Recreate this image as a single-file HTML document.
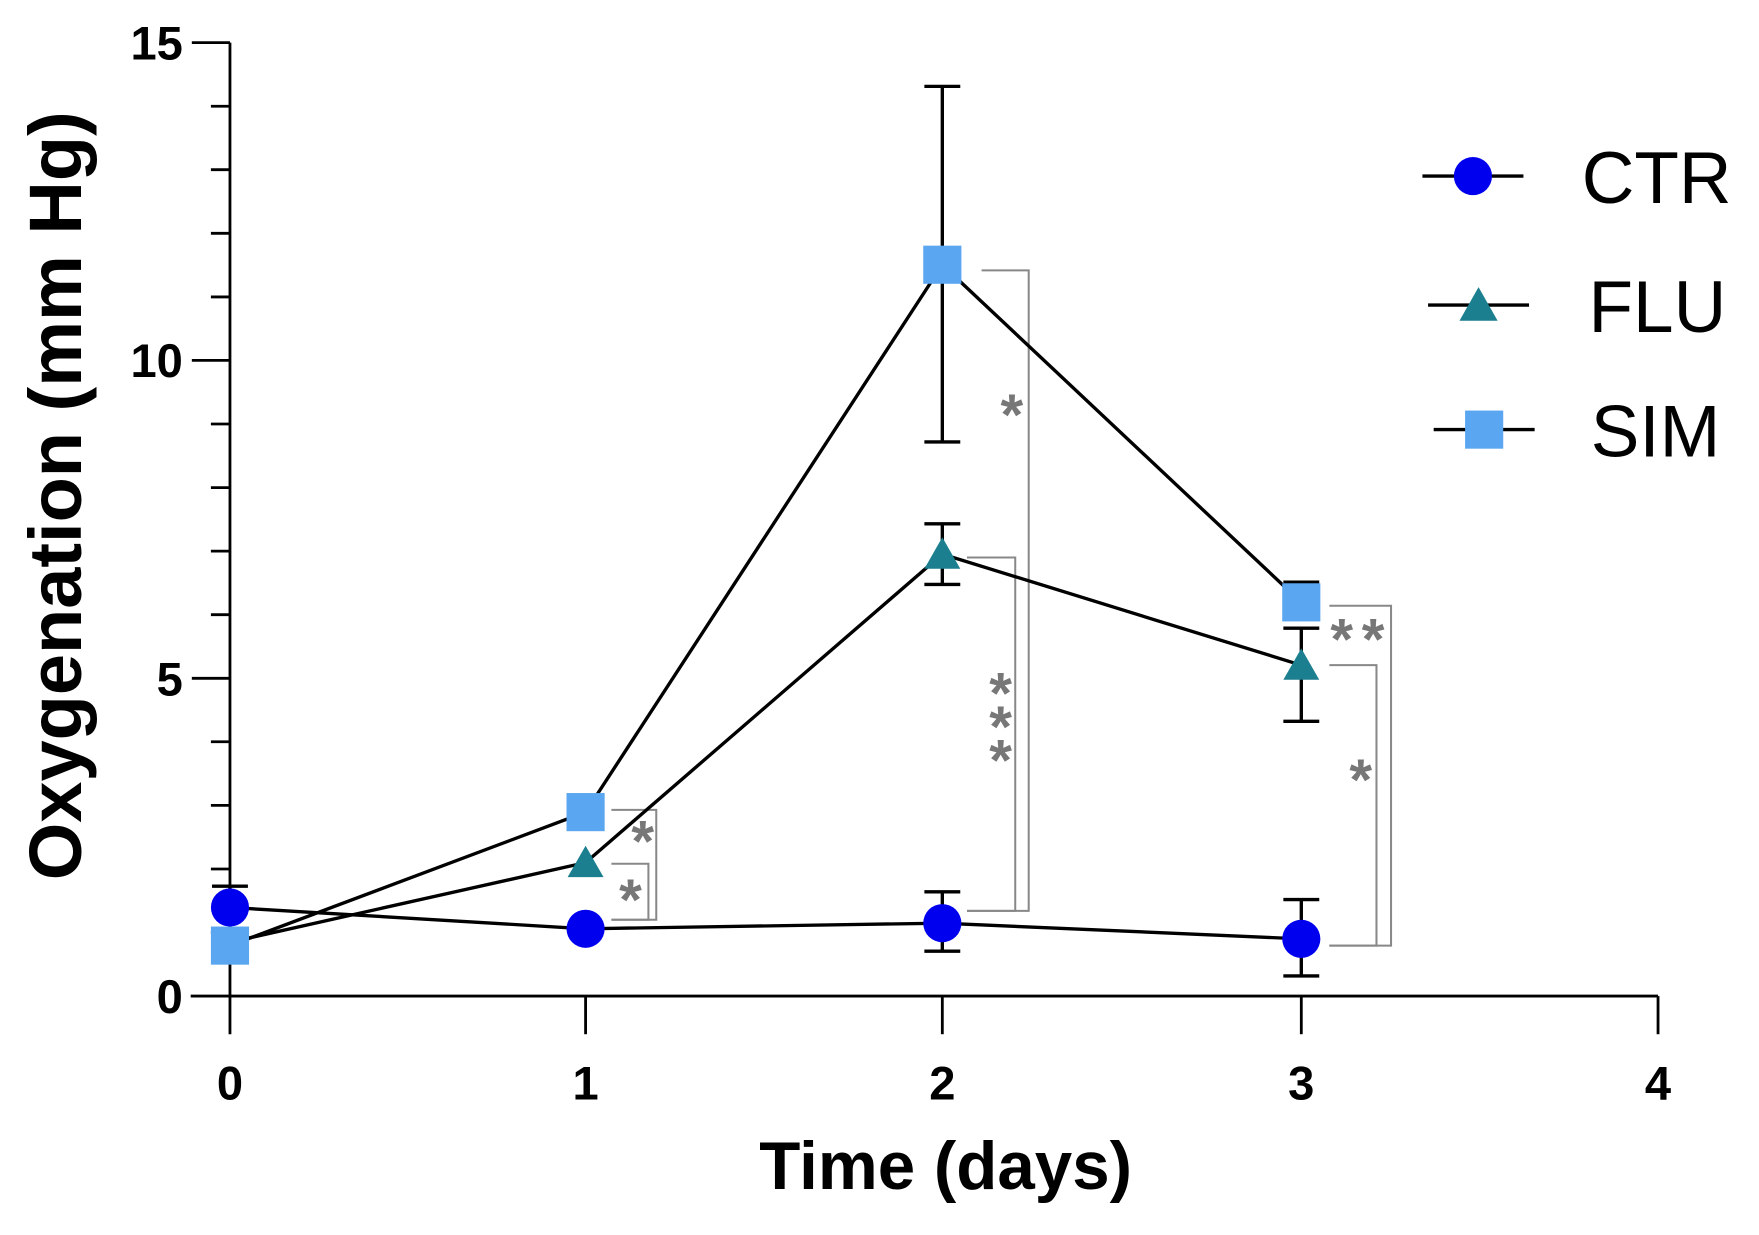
<!DOCTYPE html>
<html><head><style>html,body{margin:0;padding:0;background:#fff}svg{display:block}</style></head>
<body>
<svg width="1759" height="1235" viewBox="0 0 1568 1101" preserveAspectRatio="none" xmlns="http://www.w3.org/2000/svg" font-family="Liberation Sans, Arial, sans-serif">
<rect width="1568" height="1101" fill="#fff"/>
<g stroke="#000" stroke-width="2.5" fill="none">
<line x1="205" y1="38" x2="205" y2="922"/>
<line x1="170" y1="888" x2="1478" y2="888"/>
<line x1="1478" y1="888" x2="1478" y2="922"/>
<line x1="522" y1="888" x2="522" y2="922"/>
<line x1="840" y1="888" x2="840" y2="922"/>
<line x1="1160" y1="888" x2="1160" y2="922"/>
<line x1="171" y1="38" x2="205" y2="38"/>
<line x1="171" y1="321.3" x2="205" y2="321.3"/>
<line x1="171" y1="604.7" x2="205" y2="604.7"/>
<line x1="188" y1="94.7" x2="205" y2="94.7"/>
<line x1="188" y1="151.3" x2="205" y2="151.3"/>
<line x1="188" y1="208" x2="205" y2="208"/>
<line x1="188" y1="264.7" x2="205" y2="264.7"/>
<line x1="188" y1="378" x2="205" y2="378"/>
<line x1="188" y1="434.7" x2="205" y2="434.7"/>
<line x1="188" y1="491.3" x2="205" y2="491.3"/>
<line x1="188" y1="548" x2="205" y2="548"/>
<line x1="188" y1="661.3" x2="205" y2="661.3"/>
<line x1="188" y1="718" x2="205" y2="718"/>
<line x1="188" y1="774.7" x2="205" y2="774.7"/>
<line x1="188" y1="831.3" x2="205" y2="831.3"/>
</g>
<g font-weight="bold" font-size="42" text-anchor="end" fill="#000">
<text x="163" y="53">15</text><text x="163" y="336">10</text><text x="163" y="620">5</text><text x="163" y="903">0</text>
</g>
<g font-weight="bold" font-size="42" text-anchor="middle" fill="#000">
<text x="205" y="980">0</text><text x="522" y="980">1</text><text x="840" y="980">2</text><text x="1160" y="980">3</text><text x="1478" y="980">4</text>
</g>
<text x="843" y="1060" font-weight="bold" font-size="60" text-anchor="middle">Time (days)</text>
<text transform="translate(72,442) rotate(-90)" font-weight="bold" font-size="66" text-anchor="middle">Oxygenation (mm Hg)</text>
<g stroke="#888" stroke-width="1.8" fill="none">
<polyline points="545,722 585,722 585,820 545,820"/>
<polyline points="545,770 578,770 578,820 545,820"/>
<polyline points="875,241 917,241 917,812 862,812"/>
<polyline points="862,497 905,497 905,812 862,812"/>
<polyline points="1185,540 1240,540 1240,843 1185,843"/>
<polyline points="1185,593 1227,593 1227,843 1185,843"/>
</g>
<g fill="#777" font-size="52" font-weight="bold" text-anchor="middle">
<text x="573" y="768">*</text><text x="562" y="820">*</text>
<text x="902" y="388">*</text>
<text x="892" y="636">*</text><text x="892" y="666">*</text><text x="892" y="696">*</text>
<text x="1196" y="588">*</text><text x="1224" y="588">*</text>
<text x="1213" y="713">*</text>
</g>
<g stroke="#000" stroke-width="3" fill="none">
<line x1="205" y1="790" x2="205" y2="857"/><line x1="189" y1="790" x2="221" y2="790"/><line x1="189" y1="857" x2="221" y2="857"/>
<line x1="840" y1="795" x2="840" y2="848"/><line x1="824" y1="795" x2="856" y2="795"/><line x1="824" y1="848" x2="856" y2="848"/>
<line x1="1160" y1="802" x2="1160" y2="870"/><line x1="1144" y1="802" x2="1176" y2="802"/><line x1="1144" y1="870" x2="1176" y2="870"/>
<line x1="840" y1="467" x2="840" y2="521"/><line x1="824" y1="467" x2="856" y2="467"/><line x1="824" y1="521" x2="856" y2="521"/>
<line x1="1160" y1="560" x2="1160" y2="643"/><line x1="1144" y1="560" x2="1176" y2="560"/><line x1="1144" y1="643" x2="1176" y2="643"/>
<line x1="840" y1="77" x2="840" y2="394"/><line x1="824" y1="77" x2="856" y2="77"/><line x1="824" y1="394" x2="856" y2="394"/>
<line x1="1160" y1="519" x2="1160" y2="540"/><line x1="1144" y1="519" x2="1176" y2="519"/>
</g>
<g stroke="#000" stroke-width="3" fill="none">
<polyline points="205,809 522,828 840,823 1160,837"/>
<polyline points="205,840 522,769 840,494 1160,593"/>
<polyline points="205,843 522,724 840,236 1160,537"/>
</g>
<g fill="#0000ee">
<circle cx="205" cy="809" r="17"/><circle cx="522" cy="828" r="17"/><circle cx="840" cy="823" r="17"/><circle cx="1160" cy="837" r="17"/>
</g>
<g fill="#1b7f8f">
<polygon points="522,754 538,782 506,782"/><polygon points="840,479 856,507 824,507"/><polygon points="1160,578 1176,606 1144,606"/>
</g>
<g fill="#5aa6f0">
<rect x="188" y="826" width="34" height="34"/><rect x="505" y="707" width="34" height="34"/><rect x="823" y="219" width="34" height="34"/><rect x="1143" y="520" width="34" height="34"/>
</g>
<g stroke="#000" stroke-width="3">
<line x1="1268" y1="157" x2="1358" y2="157"/>
<line x1="1273" y1="272" x2="1363" y2="272"/>
<line x1="1278" y1="383" x2="1368" y2="383"/>
</g>
<circle cx="1313" cy="157" r="17" fill="#0000ee"/>
<polygon points="1318,256 1335,286 1301,286" fill="#1b7f8f"/>
<rect x="1306" y="366" width="34" height="34" fill="#5aa6f0"/>
<g font-size="65" fill="#000">
<text x="1410" y="181">CTR</text><text x="1416" y="296">FLU</text><text x="1418" y="407">SIM</text>
</g>
</svg>
</body></html>
